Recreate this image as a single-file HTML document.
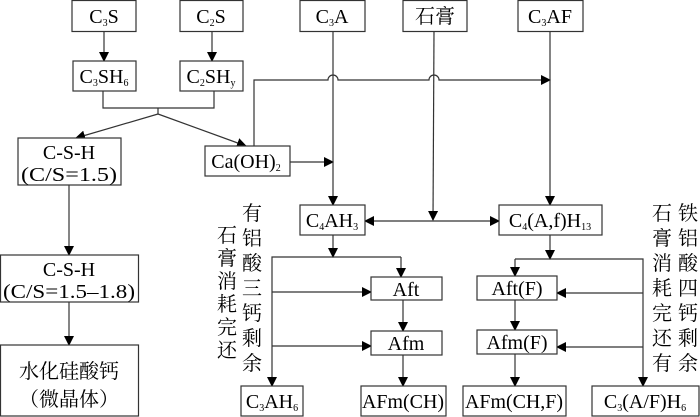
<!DOCTYPE html>
<html><head><meta charset="utf-8"><style>
html,body{margin:0;padding:0;background:#fff;}
svg{display:block;}
svg text{font-family:'Liberation Serif','Noto Serif CJK SC',serif !important;font-size:20px;fill:#000;}
rect{fill:#fff;stroke:#333;stroke-width:1.2;}
line,polyline,path{stroke:#333;stroke-width:1.2;fill:none;}
</style></head><body>
<svg width="700" height="417" viewBox="0 0 700 417" xmlns="http://www.w3.org/2000/svg" font-family="Liberation Serif, Noto Serif CJK SC, serif">
<defs><marker id="a" markerWidth="10" markerHeight="10" refX="9" refY="5" orient="auto" markerUnits="userSpaceOnUse"><path d="M0,0 L10,5 L0,10 Z" style="fill:#000;stroke:none"/></marker></defs>

<line x1="104" y1="31" x2="104" y2="61" marker-end="url(#a)"/>
<line x1="212" y1="31" x2="212" y2="61" marker-end="url(#a)"/>
<polyline points="103,91 103,108 214,108 214,91"/>
<line x1="158" y1="108" x2="158" y2="114"/>
<line x1="158" y1="114" x2="76" y2="138" marker-end="url(#a)"/>
<line x1="158" y1="114" x2="246" y2="146" marker-end="url(#a)"/>
<line x1="290" y1="162" x2="333" y2="162" marker-end="url(#a)"/>
<path d="M254,146 L254,80 L328,80 A5,5 0 0 1 338,80 L429,80 A5,5 0 0 1 439,80 L550,80" marker-end="url(#a)"/>
<line x1="333" y1="31" x2="333" y2="205" marker-end="url(#a)"/>
<line x1="434" y1="31" x2="433" y2="220" marker-end="url(#a)"/>
<line x1="550" y1="31" x2="550" y2="205" marker-end="url(#a)"/>
<line x1="434" y1="221" x2="365" y2="221" marker-end="url(#a)"/>
<line x1="434" y1="221" x2="499" y2="221" marker-end="url(#a)"/>
<line x1="69" y1="185" x2="69" y2="255" marker-end="url(#a)"/>
<line x1="69" y1="302" x2="69" y2="345" marker-end="url(#a)"/>

<line x1="333" y1="234" x2="333" y2="257" marker-end="url(#a)"/>
<polyline points="401,257 272,257 272,386" marker-end="url(#a)"/>
<line x1="401" y1="257" x2="401" y2="277" marker-end="url(#a)"/>
<line x1="272" y1="292" x2="371" y2="292" marker-end="url(#a)"/>
<line x1="272" y1="346" x2="371" y2="346" marker-end="url(#a)"/>
<line x1="403" y1="300" x2="403" y2="331" marker-end="url(#a)"/>
<line x1="403" y1="355" x2="403" y2="386" marker-end="url(#a)"/>

<line x1="550" y1="235" x2="550" y2="259" marker-end="url(#a)"/>
<polyline points="515,259 643,259 643,386" marker-end="url(#a)"/>
<line x1="515" y1="259" x2="515" y2="276" marker-end="url(#a)"/>
<line x1="643" y1="293" x2="557" y2="293" marker-end="url(#a)"/>
<line x1="643" y1="347" x2="557" y2="347" marker-end="url(#a)"/>
<line x1="515" y1="300" x2="515" y2="330" marker-end="url(#a)"/>
<line x1="515" y1="354" x2="515" y2="386" marker-end="url(#a)"/>

<rect x="72" y="0.5" width="64" height="31"/><text x="104" y="23" text-anchor="middle">C<tspan font-size="10" dy="3">3</tspan><tspan dy="-3">S</tspan></text>
<rect x="180" y="0.5" width="63" height="31"/><text x="211" y="23" text-anchor="middle">C<tspan font-size="10" dy="3">2</tspan><tspan dy="-3">S</tspan></text>
<rect x="73" y="61" width="63" height="30"/><text x="104" y="83" text-anchor="middle">C<tspan font-size="10" dy="3">3</tspan><tspan dy="-3">SH</tspan><tspan font-size="10" dy="3">6</tspan></text>
<rect x="180" y="61" width="63" height="30"/><text x="211" y="83" text-anchor="middle">C<tspan font-size="10" dy="3">2</tspan><tspan dy="-3">SH</tspan><tspan font-size="10" dy="3">y</tspan></text>
<rect x="18" y="138" width="103" height="47"/><text x="69" y="159" text-anchor="middle">C-S-H</text><text x="69" y="181" text-anchor="middle" textLength="96" lengthAdjust="spacingAndGlyphs">(C/S=1.5)</text>
<rect x="205" y="146" width="85" height="30"/><text x="246" y="168" text-anchor="middle">Ca(OH)<tspan font-size="10" dy="3">2</tspan></text>
<rect x="300" y="0.5" width="65" height="31"/><text x="332" y="23" text-anchor="middle">C<tspan font-size="10" dy="3">3</tspan><tspan dy="-3">A</tspan></text>
<rect x="403" y="0.5" width="64" height="31"/><text x="435" y="23" text-anchor="middle">石膏</text>
<rect x="518" y="0.5" width="65" height="31"/><text x="550" y="23" text-anchor="middle">C<tspan font-size="10" dy="3">3</tspan><tspan dy="-3">AF</tspan></text>
<rect x="300" y="205" width="65" height="30"/><text x="332" y="227" text-anchor="middle">C<tspan font-size="10" dy="3">4</tspan><tspan dy="-3">AH</tspan><tspan font-size="10" dy="3">3</tspan></text>
<rect x="499" y="205" width="103" height="30"/><text x="550" y="227" text-anchor="middle">C<tspan font-size="10" dy="3">4</tspan><tspan dy="-3">(A,f)H</tspan><tspan font-size="10" dy="3">13</tspan></text>
<rect x="0.5" y="255" width="138" height="47"/><text x="69" y="276" text-anchor="middle">C-S-H</text><text x="69" y="298" text-anchor="middle" textLength="132" lengthAdjust="spacingAndGlyphs">(C/S=1.5–1.8)</text>
<rect x="0.5" y="345" width="138" height="71"/><text x="69" y="378" text-anchor="middle">水化硅酸钙</text><text x="69" y="406" text-anchor="middle">（微晶体）</text>
<rect x="371" y="277" width="71" height="23"/><text x="406" y="296" text-anchor="middle">Aft</text>
<rect x="371" y="331" width="71" height="24"/><text x="406" y="350" text-anchor="middle">Afm</text>
<rect x="477" y="276" width="80" height="24"/><text x="517" y="295" text-anchor="middle">Aft(F)</text>
<rect x="477" y="330" width="80" height="24"/><text x="517" y="349" text-anchor="middle">Afm(F)</text>
<rect x="241" y="386" width="62" height="30"/><text x="272" y="408" text-anchor="middle">C<tspan font-size="10" dy="3">3</tspan><tspan dy="-3">AH</tspan><tspan font-size="10" dy="3">6</tspan></text>
<rect x="361" y="386" width="85" height="30"/><text x="403" y="408" text-anchor="middle" textLength="82" lengthAdjust="spacingAndGlyphs">AFm(CH)</text>
<rect x="463" y="386" width="103" height="30"/><text x="514" y="408" text-anchor="middle" textLength="98" lengthAdjust="spacingAndGlyphs">AFm(CH,F)</text>
<rect x="592" y="386" width="107" height="30"/><text x="645" y="408" text-anchor="middle">C<tspan font-size="10" dy="3">3</tspan><tspan dy="-3">(A/F)H</tspan><tspan font-size="10" dy="3">6</tspan></text>

<g text-anchor="middle">
<text x="227" y="242">石</text><text x="227" y="265">膏</text><text x="227" y="288">消</text><text x="227" y="311">耗</text><text x="227" y="334">完</text><text x="227" y="357">还</text>
<text x="252" y="220">有</text><text x="252" y="245">铝</text><text x="252" y="270">酸</text><text x="252" y="295">三</text><text x="252" y="320">钙</text><text x="252" y="345">剩</text><text x="252" y="370">余</text>
<text x="662" y="220">石</text><text x="662" y="245">膏</text><text x="662" y="270">消</text><text x="662" y="295">耗</text><text x="662" y="320">完</text><text x="662" y="345">还</text><text x="662" y="370">有</text>
<text x="688" y="220">铁</text><text x="688" y="245">铝</text><text x="688" y="270">酸</text><text x="688" y="295">四</text><text x="688" y="320">钙</text><text x="688" y="345">剩</text><text x="688" y="370">余</text>
</g>
</svg>
</body></html>
